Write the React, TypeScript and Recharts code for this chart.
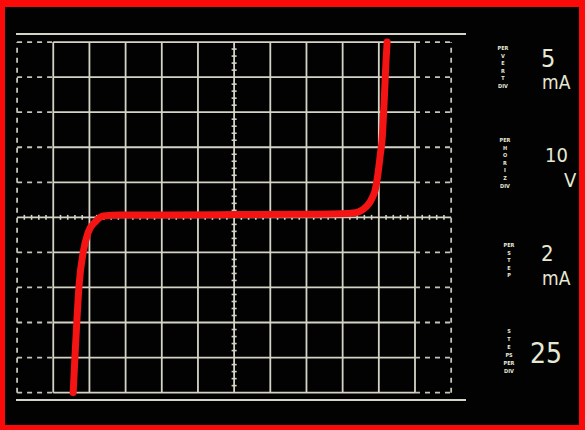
import React from "react";
import { LineChart, Line, XAxis, YAxis, ReferenceLine } from "recharts";

// Curve trace (divisions from screen centre)
const curveX = [-4.45, -4.4, -4.35, -4.29, -4.17, -4.04, -3.84, -3.62, -3.15, -2, 0, 2, 2.93, 3.35, 3.54, 3.68, 3.82, 3.9, 3.98, 4.04, 4.09, 4.15, 4.2, 4.23];
const curveY = [-5.0, -3.97, -3.0, -1.98, -0.98, -0.44, -0.13, 0.04, 0.07, 0.07, 0.08, 0.09, 0.1, 0.13, 0.21, 0.33, 0.56, 0.78, 1.27, 1.78, 2.21, 3.35, 4.49, 5.0];

// Grid divisions
const gridCols = [-5, -4, -3, -2, -1, 0, 1, 2, 3, 4, 5];
const gridRows = [-5, -4, -3, -2, -1, 0, 1, 2, 3, 4, 5];

// Right-hand control readouts
const smallLabels = [
  ["PER", "V", "E", "R", "T", "DIV"],
  ["PER", "H", "O", "R", "I", "Z", "DIV"],
  ["PER", "S", "T", "E", "P"],
  ["S", "T", "E", "PS", "PER", "DIV"],
];
const bigValues = ["5", "10", "2", "25"];
const bigUnits = ["mA", "V", "mA", ""];

const data = curveX.map((x, i) => ({ x, y: curveY[i] }));

const GRID = "#d4d4c6";
const DASH = "#c4c4b8";
const TXT = "#e6e8d6";

const minorX: number[] = [];
for (let i = -30; i <= 30; i++) if (i % 5 !== 0) minorX.push(i / 5);
const minorY: number[] = [];
for (let i = -25; i <= 25; i++) if (i % 5 !== 0) minorY.push(i / 5);

export default function App() {
  const lines: React.ReactNode[] = [];
  let k = 0;
  // outer solid rails
  lines.push(<ReferenceLine key={k++} segment={[{ x: -6.03, y: 5.23 }, { x: 6.41, y: 5.23 }]} stroke={GRID} strokeWidth={2} ifOverflow="visible" />);
  lines.push(<ReferenceLine key={k++} segment={[{ x: -6.03, y: -5.21 }, { x: 6.41, y: -5.21 }]} stroke={GRID} strokeWidth={2} ifOverflow="visible" />);
  // solid grid
  gridCols.forEach((c) =>
    lines.push(<ReferenceLine key={k++} segment={[{ x: c, y: -5 }, { x: c, y: 5 }]} stroke={GRID} strokeWidth={1.8} ifOverflow="visible" />)
  );
  gridRows.forEach((r) =>
    lines.push(
      <ReferenceLine key={k++} segment={[{ x: r === 0 ? -6 : -5, y: r }, { x: r === 0 ? 6 : 5, y: r }]} stroke={GRID} strokeWidth={1.8} ifOverflow="visible" />
    )
  );
  // dashed outer columns
  gridRows.forEach((r) => {
    if (r === 0) return;
    lines.push(<ReferenceLine key={k++} segment={[{ x: -6, y: r }, { x: -5, y: r }]} stroke={DASH} strokeWidth={1.8} strokeDasharray="5 5" ifOverflow="visible" />);
    lines.push(<ReferenceLine key={k++} segment={[{ x: 5, y: r }, { x: 6, y: r }]} stroke={DASH} strokeWidth={1.8} strokeDasharray="5 5" ifOverflow="visible" />);
  });
  [-6, 6].forEach((c) =>
    lines.push(<ReferenceLine key={k++} segment={[{ x: c, y: -5 }, { x: c, y: 5 }]} stroke={DASH} strokeWidth={1.8} strokeDasharray="5 5" ifOverflow="visible" />)
  );
  // minor ticks on centre lines
  minorX.forEach((m) =>
    lines.push(<ReferenceLine key={k++} segment={[{ x: m, y: -0.07 }, { x: m, y: 0.07 }]} stroke={GRID} strokeWidth={1.6} ifOverflow="visible" />)
  );
  minorY.forEach((m) =>
    lines.push(<ReferenceLine key={k++} segment={[{ x: -0.07, y: m }, { x: 0.07, y: m }]} stroke={GRID} strokeWidth={1.6} ifOverflow="visible" />)
  );

  const smallX = [503, 505, 509, 509];
  const smallTop = [50, 142, 247, 333];
  const bigPos = [
    { x: 541, y: 67, fs: 25 },
    { x: 545, y: 162, fs: 20 },
    { x: 541, y: 261, fs: 22 },
    { x: 530, y: 363, fs: 28 },
  ];
  const unitPos = [
    { x: 542, y: 89, fs: 19 },
    { x: 564, y: 187, fs: 20 },
    { x: 542, y: 285, fs: 19 },
    { x: 0, y: 0, fs: 0 },
  ];

  return (
    <div style={{ position: "absolute", left: 0, top: 0, width: 585, height: 430, background: "#fb0a0a" }}>
      <div style={{ position: "absolute", left: 5, top: 7, width: 574, height: 418, background: "#020202" }} />
      <div style={{ position: "absolute", left: 0, top: 0 }}>
        <LineChart width={585} height={430} data={data} margin={{ top: 34, right: 119, bottom: 30, left: 16 }}>
          <XAxis type="number" dataKey="x" domain={[-6.03, 6.41]} hide />
          <YAxis type="number" domain={[-5.21, 5.23]} hide />
          {lines}
          <Line
            type="monotone"
            dataKey="y"
            stroke="#f41414"
            strokeWidth={7}
            strokeLinecap="round"
            strokeLinejoin="round"
            dot={false}
            isAnimationActive={false}
          />
        </LineChart>
      </div>
      <svg width={585} height={430} style={{ position: "absolute", left: 0, top: 0 }}>
        {smallLabels.map((arr, i) =>
          arr.map((s, j) => (
            <text
              key={`s${i}-${j}`}
              x={smallX[i]}
              y={smallTop[i] + j * (i === 3 ? 8 : 7.6)}
              textAnchor="middle"
              fill={TXT}
              fontFamily="DejaVu Sans Condensed, DejaVu Sans"
              fontWeight="bold"
              fontSize={5.5}
            >
              {s}
            </text>
          ))
        )}
        {bigValues.map((v, i) => (
          <text key={`b${i}`} x={bigPos[i].x} y={bigPos[i].y} fill={TXT} fontFamily="DejaVu Sans Condensed, DejaVu Sans" fontSize={bigPos[i].fs}>
            {v}
          </text>
        ))}
        {bigUnits.map((u, i) =>
          u ? (
            <text key={`u${i}`} x={unitPos[i].x} y={unitPos[i].y} fill={TXT} fontFamily="DejaVu Sans Condensed, DejaVu Sans" fontSize={unitPos[i].fs}>
              {u}
            </text>
          ) : null
        )}
      </svg>
    </div>
  );
}
